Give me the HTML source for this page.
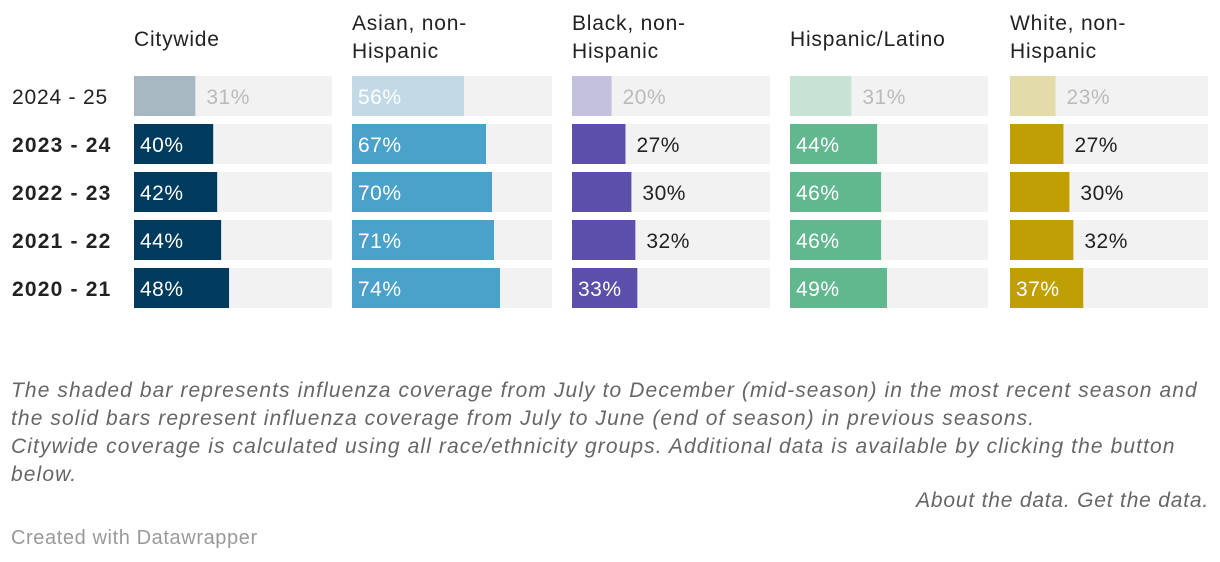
<!DOCTYPE html>
<html><head><meta charset="utf-8"><style>
body{margin:0;width:1220px;height:562px;background:#fff;font-family:"Liberation Sans",sans-serif;overflow:hidden;position:relative}
.t{position:absolute;white-space:nowrap}
</style></head><body>
<svg id="chart" width="1220" height="340" style="position:absolute;left:0;top:0"></svg>
<div class="t" style="left:11px;top:377px;font-size:21px;letter-spacing:1.1px;line-height:28px;font-style:italic;color:#666">The shaded bar represents influenza coverage from July to December (mid-season) in the most recent season and<br>the solid bars represent influenza coverage from July to June (end of season) in previous seasons.<br>Citywide coverage is calculated using all race/ethnicity groups. Additional data is available by clicking the button<br>below.</div>
<div class="t" style="right:11px;top:489px;font-size:21px;letter-spacing:0.8px;font-style:italic;color:#666">About the data. Get the data.</div>
<div class="t" style="left:11px;top:527px;font-size:20px;letter-spacing:0.6px;color:#999">Created with Datawrapper</div>
<script>
const groups=["Citywide","Asian, non-\nHispanic","Black, non-\nHispanic","Hispanic/Latino","White, non-\nHispanic"];
const seasons=["2024 - 25","2023 - 24","2022 - 23","2021 - 22","2020 - 21"];
const citywide=[31,40,42,44,48];
const asian=[56,67,70,71,74];
const black=[20,27,30,32,33];
const hispanic=[31,44,46,46,49];
const white=[23,27,30,32,37];
const series=[citywide,asian,black,hispanic,white];
const colors=["#003a5d","#4aa2ca","#5b4fab","#62b88e","#bf9f04"];
const faded=["#a8b8c2","#c1dae6","#c4c1de","#c8e3d6","#e4dbaa"];
const px=[134,352,572,790,1010],pw=[198,200,198,198,198];
const ns="http://www.w3.org/2000/svg",svg=document.getElementById('chart');
function el(t,a){const e=document.createElementNS(ns,t);for(const k in a)e.setAttribute(k,a[k]);svg.appendChild(e);return e;}
const y=i=>76+i*48, x=(g,v)=>pw[g]*v/100;
seasons.forEach((s,i)=>{const t=el('text',{x:12,y:y(i)+28,'font-size':21,'letter-spacing':i?1.2:0.8,fill:'#222','font-weight':i?'bold':'normal'});t.textContent=s;

});
groups.forEach((g,gi)=>{
 const lines=g.split("\n");
 lines.forEach((l,li)=>{const t=el('text',{x:px[gi],y:(lines.length>1?30:46)+li*28,'font-size':21,'letter-spacing':0.8,fill:'#222'});t.textContent=l;
 
 });
 series[gi].forEach((v,i)=>{
  const bg=el('rect',{x:px[gi],y:y(i),width:pw[gi],height:40,fill:'#f2f2f2'});
  
  
  const w=x(gi,v);
  const b=el('rect',{x:px[gi],y:y(i),width:w,height:40,fill:i?colors[gi]:faded[gi]});
  
  
  const inside=v>=33;
  const t=el('text',{x:inside?px[gi]+6:px[gi]+w+11,y:y(i)+28,'font-size':21,'letter-spacing':0.5,fill:inside?'#fff':(i?'#222':'#bbb')});
  t.textContent=v+'%';
  
  
 });
});
</script>
</body></html>
